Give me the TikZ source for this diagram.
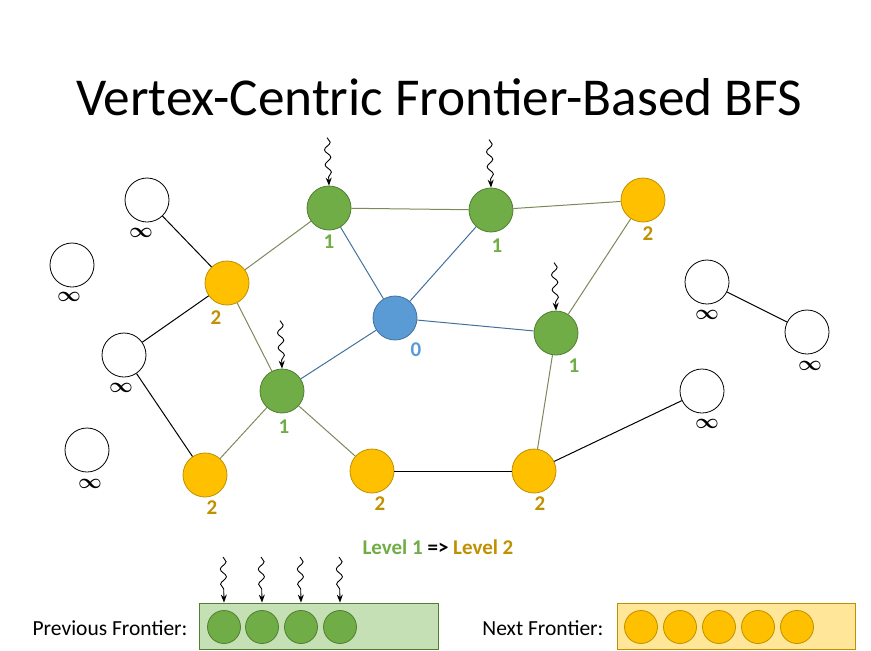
\documentclass[tikz,border=0pt]{standalone}
\usepackage{amsmath,amssymb,bm}
\usepackage{fontspec}
\setmainfont{Carlito}
\usepackage{tikz}
\usetikzlibrary{arrows.meta,positioning,calc,decorations.pathmorphing}
\definecolor{grn}{HTML}{70AD47}
\definecolor{grnd}{HTML}{507E32}
\definecolor{ylw}{HTML}{FFC000}
\definecolor{ylwd}{HTML}{BF9000}
\definecolor{blu}{HTML}{5B9BD5}
\definecolor{blud}{HTML}{41719C}
\definecolor{olv}{HTML}{7B8A5A}
\definecolor{grnsoft}{HTML}{C5E0B4}
\definecolor{ylwsoft}{HTML}{FFE699}
\tikzset{
  vtx/.style={circle,minimum size=44pt,inner sep=0pt,line width=0.8pt},
  wv/.style={vtx,draw=black,fill=white},
  gv/.style={vtx,draw=grnd,fill=grn},
  yv/.style={vtx,draw=ylwd,fill=ylw},
  bv/.style={vtx,draw=blud,fill=blu},
  fv/.style={circle,minimum size=33pt,inner sep=0pt,line width=0.8pt},
  lab/.style={font=\fontsize{21}{24}\selectfont\bfseries},
  inf/.style={font=\fontsize{21}{24}\selectfont},
  bedge/.style={draw=black,line width=1pt},
  oedge/.style={draw=olv,line width=1pt},
  uedge/.style={draw=blud,line width=1pt},
  squig/.style={-{Stealth[length=8pt,width=6pt]},line width=0.9pt,decorate,
    decoration={snake,amplitude=3pt,segment length=15pt,post length=7pt}},
}
\begin{document}
\begin{tikzpicture}[x=1pt,y=-1pt]
\useasboundingbox (0,0) rectangle (871,651);
% title
\node (title) at (439,97) {\fontsize{53.3}{60}\selectfont Vertex-Centric Frontier-Based BFS};
% vertices
\node[wv] (w1) at (147,200) {};
\node[wv] (w2) at (72,265) {};
\node[yv] (y1) at (227,283) {};
\node[gv] (g1) at (329,208) {};
\node[gv] (g2) at (491,210) {};
\node[yv] (y2) at (643,200) {};
\node[bv] (b0) at (395,318) {};
\node[gv] (g3) at (556,333) {};
\node[wv] (w3) at (124,355) {};
\node[gv] (g4) at (282,391) {};
\node[wv] (w4) at (87,450) {};
\node[yv] (y3) at (205,475) {};
\node[yv] (y4) at (372,471) {};
\node[yv] (y5) at (534,471) {};
\node[wv] (w5) at (707,282) {};
\node[wv] (w6) at (807,332) {};
\node[wv] (w7) at (702,391) {};
% levels
\node[inf] (lw1) at (141,233) {$\bm{\infty}$};
\node[inf] (lw2) at (69,297) {$\bm{\infty}$};
\node[inf] (lw3) at (121,388) {$\bm{\infty}$};
\node[inf] (lw4) at (90,484) {$\bm{\infty}$};
\node[inf] (lw5) at (707,315) {$\bm{\infty}$};
\node[inf] (lw6) at (810,366) {$\bm{\infty}$};
\node[inf] (lw7) at (707,424) {$\bm{\infty}$};
\node[lab,text=grn] (lg1) at (329,242) {1};
\node[lab,text=grn] (lg2) at (497,246) {1};
\node[lab,text=grn] (lg3) at (574,366) {1};
\node[lab,text=grn] (lg4) at (284,427) {1};
\node[lab,text=blu] (lb0) at (416,350) {0};
\node[lab,text=ylwd] (ly1) at (216,318) {2};
\node[lab,text=ylwd] (ly2) at (648,234) {2};
\node[lab,text=ylwd] (ly3) at (212,508) {2};
\node[lab,text=ylwd] (ly4) at (380,504) {2};
\node[lab,text=ylwd] (ly5) at (540,504) {2};
% edges
\draw[bedge] (w1)--(y1); \draw[bedge] (y1)--(w3); \draw[bedge] (w3)--(y3);
\draw[bedge] (y4)--(y5); \draw[bedge] (y5)--(w7); \draw[bedge] (w5)--(w6);
\draw[oedge] (y1)--(g1); \draw[oedge] (y1)--(g4); \draw[oedge] (g1)--(g2);
\draw[oedge] (g2)--(y2); \draw[oedge] (y2)--(g3); \draw[oedge] (g4)--(y3);
\draw[oedge] (g4)--(y4); \draw[oedge] (g3)--(y5);
\draw[uedge] (g1)--(b0); \draw[uedge] (g2)--(b0); \draw[uedge] (b0)--(g3);
\draw[uedge] (b0)--(g4);
% threads on the frontier
\foreach \v in {g1,g2,g3,g4}{
  \coordinate (t\v) at ($(\v.north)+(-2,-48)$);
  \draw[squig] (t\v) -- (\v.north);
}
\node[lab] (lvl) at (438,547) {\textcolor{grn}{Level 1} => \textcolor{ylwd}{Level 2}};
% frontier queues
\node[font=\fontsize{21.5}{24}\selectfont,anchor=east] (prevlab) at (191,628) {Previous Frontier:};
\node[draw=grnd,fill=grnsoft,line width=0.8pt,minimum width=239pt,minimum height=46pt,inner sep=0pt] (prev) at (318.5,626) {};
\foreach \x [count=\i] in {224,262,301,340}{
  \node[fv,draw=grnd,fill=grn] (p\i) at (\x,627) {};
  \coordinate (tp\i) at (\x-1,557);
  \draw[squig] (tp\i) -- (prev.north -| p\i);
}
\node[font=\fontsize{21.5}{24}\selectfont,anchor=east] (nextlab) at (607,628) {Next Frontier:};
\node[draw=ylwd,fill=ylwsoft,line width=0.8pt,minimum width=238pt,minimum height=46pt,inner sep=0pt] (next) at (736,626) {};
\foreach \x [count=\i] in {641,680,719,758,797}{
  \node[fv,draw=ylwd,fill=ylw] (n\i) at (\x,627) {};
}
\end{tikzpicture}
\end{document}
